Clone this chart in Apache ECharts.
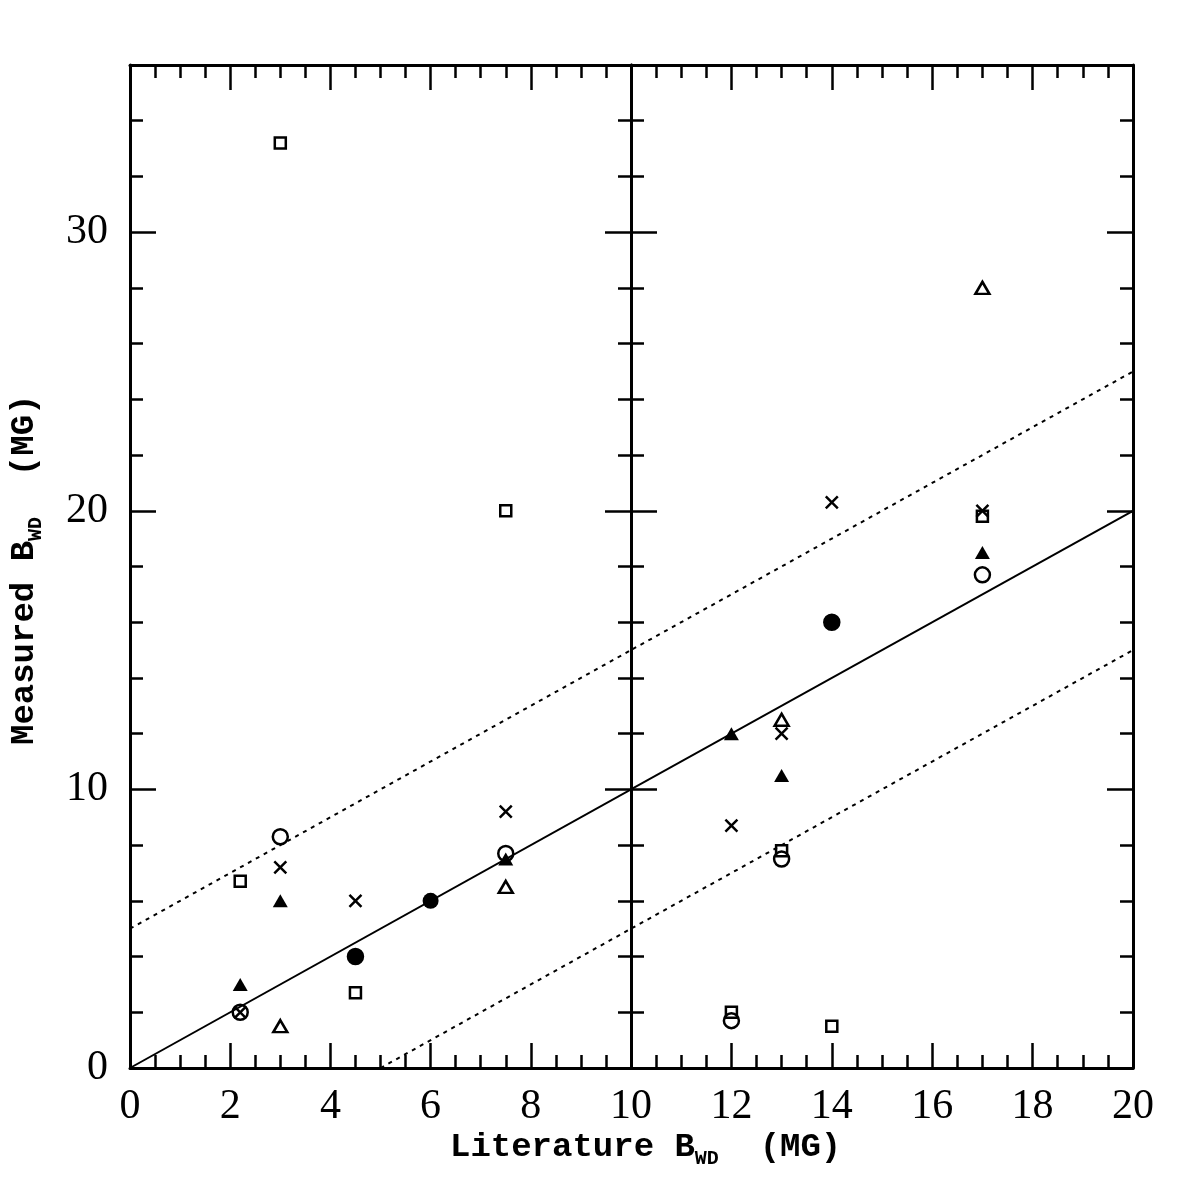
<!DOCTYPE html>
<html>
<head>
<meta charset="utf-8">
<script src="https://cdn.jsdelivr.net/npm/echarts@6/dist/echarts.min.js"></script>
<style>
  html, body { margin: 0; padding: 0; background: #fff; }
  #chart { width: 1196px; height: 1196px; }
</style>
</head>
<body>
<div id="chart"></div>
<script>
// values: [literature B, measured B]
var openSquares = [[2.2, 6.7], [3, 33.2], [4.5, 2.7], [7.5, 20], [12, 2.0], [13, 7.8], [14, 1.5], [17, 19.8]];
var filledTriangles = [[2.2, 3.0], [3, 6.0], [7.5, 7.5], [12, 12.0], [13, 10.5], [17, 18.5]];
var openTriangles = [[3, 1.5], [7.5, 6.5], [13, 12.5], [17, 28.0]];
var crosses = [[2.2, 2.0], [3, 7.2], [4.5, 6.0], [7.5, 9.2], [12, 8.7], [13, 12.0], [14, 20.3], [17, 20.0]];
var openCircles = [[2.2, 2.0], [3, 8.3], [4.5, 4.0], [7.5, 7.7], [12, 1.7], [13, 7.5], [14, 16.0], [17, 17.7]];
var filledCircles = [[4.5, 4.0], [6, 6.0], [14, 16.0]];

// reference lines
var oneToOne = [[0, 0], [20, 20]];
var upperLine = [[0, 5], [20, 25]];
var lowerLine = [[5, 0], [20, 15]];

var panelRanges = [[0, 10], [10, 20]];
var yMax = 36;

var chart = echarts.init(document.getElementById('chart'));
var lineCol = '#000';
var labelFont = '"Liberation Serif", serif';
var titleFont = '"Liberation Mono", monospace';
var subStyle = { fontFamily: titleFont, fontWeight: 'bold', fontSize: 20, padding: [24, 0, 0, 0] };

function xAxes(p) {
  var r = panelRanges[p];
  var common = {
    type: 'value', gridIndex: p, min: r[0], max: r[1], interval: 2,
    axisLine: { show: true, onZero: false, lineStyle: { color: lineCol, width: 3 } },
    axisTick: { show: true, inside: true, length: 25, lineStyle: { color: lineCol, width: 2.5 } },
    minorTick: { show: true, splitNumber: 4, length: 13, lineStyle: { color: lineCol, width: 2.5 } },
    splitLine: { show: false }
  };
  var bottom = Object.assign({}, common, {
    position: 'bottom',
    axisLabel: { show: true, color: '#000', fontFamily: labelFont, fontSize: 42, margin: 18,
      showMinLabel: p === 0 }
  });
  var top = Object.assign({}, common, { position: 'top', axisLabel: { show: false } });
  return [bottom, top];
}

function yAxes(p) {
  var res = [];
  ['left', 'right'].forEach(function (side) {
    // major ticks every 10
    res.push({
      type: 'value', gridIndex: p, position: side, min: 0, max: yMax, interval: 10,
      axisLine: { show: true, onZero: false, lineStyle: { color: lineCol, width: 3 } },
      axisTick: { show: true, inside: true, length: 26, lineStyle: { color: lineCol, width: 2.5 } },
      axisLabel: { show: p === 0 && side === 'left', showMaxLabel: false, color: '#000',
        fontFamily: labelFont, fontSize: 42, margin: 22 },
      splitLine: { show: false }
    });
    // minor ticks every 2
    res.push({
      type: 'value', gridIndex: p, position: side, min: 0, max: yMax, interval: 2,
      axisLine: { show: false, onZero: false },
      axisTick: { show: true, inside: true, length: 13, lineStyle: { color: lineCol, width: 2.5 } },
      axisLabel: { show: false },
      splitLine: { show: false }
    });
  });
  return res;
}

var xAxisList = xAxes(0).concat(xAxes(1));   // 0,1 panel 0 ; 2,3 panel 1
var yAxisList = yAxes(0).concat(yAxes(1));   // 0..3 panel 0 ; 4..7 panel 1

var markerStyles = [
  { name: 'sq', data: openSquares, symbol: 'rect', size: 11, fill: 'rgba(0,0,0,0)', border: 2.5 },
  { name: 'ftri', data: filledTriangles, symbol: 'triangle', size: [15, 13], fill: '#000', border: 0 },
  { name: 'otri', data: openTriangles, symbol: 'triangle', size: [14, 12], fill: 'rgba(0,0,0,0)', border: 2.5 },
  { name: 'x', data: crosses, symbol: 'path://M0,0L10,10M10,0L0,10', size: 12, fill: 'rgba(0,0,0,0)', border: 2.5 },
  { name: 'fcirc', data: filledCircles, symbol: 'circle', size: 16, fill: '#000', border: 0 },
  { name: 'ocirc', data: openCircles, symbol: 'circle', size: 15, fill: 'rgba(0,0,0,0)', border: 2.5 }
];

var series = [];
[0, 1].forEach(function (p) {
  var r = panelRanges[p];
  [[oneToOne, 'solid'], [upperLine, [4, 5]], [lowerLine, [4, 5]]].forEach(function (l) {
    series.push({
      type: 'line', xAxisIndex: p * 2, yAxisIndex: p * 4, data: l[0], clip: true,
      symbol: 'none', silent: true, animation: false,
      lineStyle: { color: '#000', width: 2, type: l[1] }
    });
  });
  markerStyles.forEach(function (m) {
    series.push({
      type: 'scatter', name: m.name, xAxisIndex: p * 2, yAxisIndex: p * 4, animation: false,
      data: m.data.filter(function (d) { return d[0] >= r[0] && d[0] < r[1]; }),
      symbol: m.symbol, symbolSize: m.size,
      itemStyle: { color: m.fill, borderColor: '#000', borderWidth: m.border, opacity: 1 }
    });
  });
});

chart.setOption({
  backgroundColor: '#fff',
  animation: false,
  grid: [
    { left: 130, top: 65, width: 501, height: 1003 },
    { left: 631, top: 65, width: 502, height: 1003 }
  ],
  xAxis: xAxisList,
  yAxis: yAxisList,
  graphic: [{
    type: 'text', left: 450, top: 1130,
    style: {
      text: 'Literature B{sub|WD}  (MG)', fill: '#000',
      font: 'bold 34px ' + titleFont,
      rich: { sub: subStyle }
    }
  }, {
    type: 'text', x: 2, y: 745, rotation: Math.PI / 2,
    style: {
      text: 'Measured B{sub|WD}  (MG)', fill: '#000',
      font: 'bold 34px ' + titleFont,
      rich: { sub: subStyle }
    }
  }],
  series: series
});
</script>
</body>
</html>
